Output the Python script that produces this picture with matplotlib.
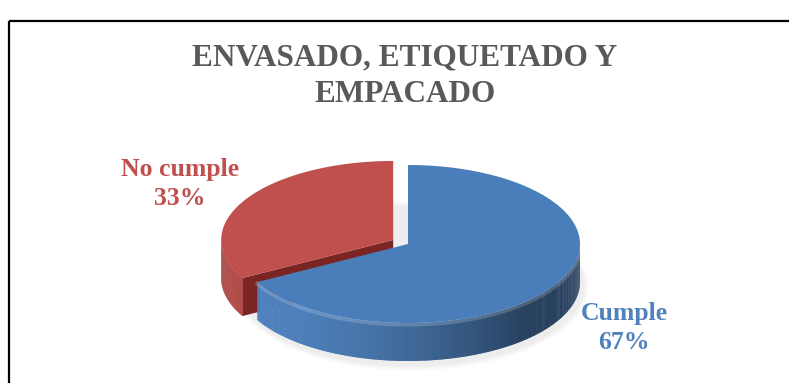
import numpy as np
import matplotlib
matplotlib.use("Agg")
import matplotlib.pyplot as plt
from matplotlib.patches import Polygon, Rectangle, Ellipse
from matplotlib.colors import to_rgb

labels = ['Cumple', 'No cumple']
values = [67, 33]
top_colors = ['#4a7ebb', '#c0504d']
wall_colors = ['#4f81bd', '#b04845']
cut_colors = ['#2c4a72', '#7a2523']
label_colors = ['#4f81bd', '#c0504d']
explode = [0.0, 0.1]
title = 'ENVASADO, ETIQUETADO Y\nEMPACADO'

W, H = 789, 383
cx, cy = 408, 244      # pie centre in pixels
a, b = 172, 79         # ellipse half axes
depth = 38             # pie thickness


def pt(theta, ox=0.0, oy=0.0, dz=0.0):
    # screen point of the rim at angle theta (degrees, math convention)
    t = np.radians(theta)
    return cx + ox + a * np.cos(t), cy + oy - b * np.sin(t) + dz


def shade(color, theta):
    f = 0.45 + 0.35 * np.cos(np.radians(theta - 215))
    f = max(f, 0.40)
    r, g, bb = to_rgb(color)
    return (r * f / 0.8, g * f / 0.8, bb * f / 0.8)


def cut_face(i, theta, ox, oy, z):
    p0 = (cx + ox, cy + oy)
    p1 = pt(theta, ox, oy)
    quad = [p0, p1, (p1[0], p1[1] + depth), (p0[0], p0[1] + depth)]
    ax.add_patch(Polygon(quad, closed=True, fc=cut_colors[i], ec='none', zorder=z))


fig = plt.figure(figsize=(W / 100, H / 100), dpi=100)
ax = fig.add_axes([0, 0, 1, 1])
ax.set_xlim(0, W)
ax.set_ylim(H, 0)
ax.axis('off')

# frame (right and bottom edges fall outside the picture)
ax.add_patch(Rectangle((9, 21), 900, 500, fill=False, ec='black', lw=1.6))

# soft shadow
for k in range(6):
    ax.add_patch(Ellipse((cx + 3, cy + depth + 4), 2 * (a + 6 - k), 2 * (b + 6 - k),
                         fc='black', ec='none', alpha=0.012, zorder=1))

total = float(sum(values))
start = 90.0
slices = []
for i, v in enumerate(values):
    span = 360.0 * v / total
    t1 = start - span      # clockwise from 12 o'clock
    t2 = start
    mid = np.radians((t1 + t2) / 2)
    ox = explode[i] * a * np.cos(mid)
    oy = -explode[i] * b * np.sin(mid)
    slices.append((i, t1, t2, ox, oy))
    start = t1

# slices further back are drawn first
order = sorted(slices, key=lambda s: s[4])

for i, t1, t2, ox, oy in order:
    z = 2 + (0 if oy < 0 else 5)
    # cut faces turned towards the viewer
    if np.sin(np.radians(t2 + 90)) < -0.05:
        cut_face(i, t2, ox, oy, z)
    if np.sin(np.radians(t1 - 90)) < -0.05:
        cut_face(i, t1, ox, oy, z)
    # outer wall on the front half
    th = np.linspace(t1, t2, 400)
    for k in range(len(th) - 1):
        m = (th[k] + th[k + 1]) / 2 % 360
        if np.sin(np.radians(m)) > 0:
            continue
        q0 = pt(th[k], ox, oy)
        q1 = pt(th[k + 1] + 0.3, ox, oy)
        quad = [q0, q1, (q1[0], q1[1] + depth), (q0[0], q0[1] + depth)]
        ax.add_patch(Polygon(quad, closed=True, fc=shade(wall_colors[i], m),
                             ec='none', zorder=z))
    # bevel highlight on the front rim
    front = th[np.sin(np.radians(th)) < 0]
    if len(front) > 1 and explode[i] == 0:
        xs, ys = zip(*[pt(t, ox, oy, 1.5) for t in front])
        ax.plot(xs, ys, color='white', alpha=0.18, lw=3, zorder=z + 0.5)
    # top face
    xs, ys = zip(*[pt(t, ox, oy) for t in th])
    poly = [(cx + ox, cy + oy)] + list(zip(xs, ys))
    ax.add_patch(Polygon(poly, closed=True, fc=top_colors[i], ec='none', zorder=z + 1))

# labels
pct = [f'{round(100 * v / total)}%' for v in values]
ax.text(624, 328, f'{labels[0]}\n{pct[0]}', ha='center', va='center',
        color=label_colors[0], fontsize=18.5, fontweight='bold',
        family='Liberation Serif', linespacing=1.3, zorder=20)
ax.text(180, 184, f'{labels[1]}\n{pct[1]}', ha='center', va='center',
        color=label_colors[1], fontsize=18.5, fontweight='bold',
        family='Liberation Serif', linespacing=1.3, zorder=20)

ax.text(405, 76, title, ha='center', va='center', color='#595959',
        fontsize=22.5, fontweight='bold', family='Liberation Serif',
        linespacing=1.35, zorder=20)

fig.savefig('out.png', dpi=100)
